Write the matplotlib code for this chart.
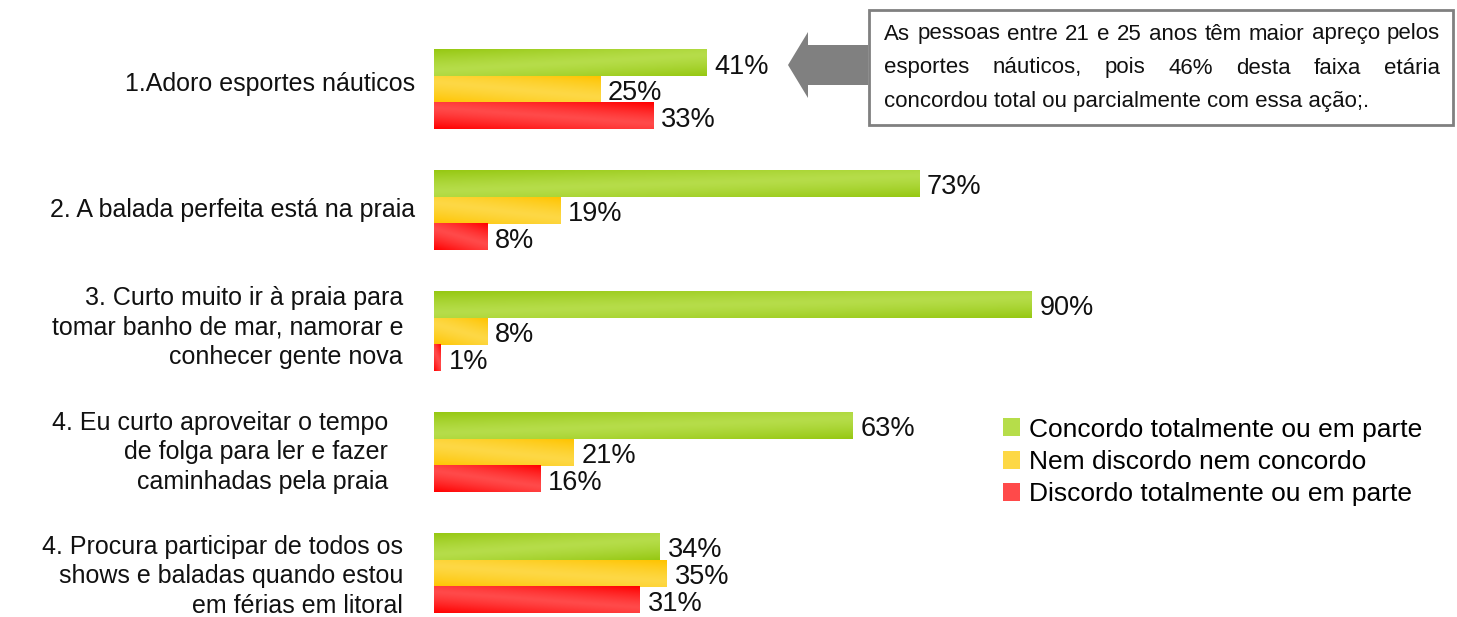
"""Bar chart: opinião sobre praia / esportes náuticos (three agreement levels)."""
import numpy as np
import matplotlib

matplotlib.use("Agg")
import matplotlib.pyplot as plt
from matplotlib.colors import to_rgb
from matplotlib.patches import FancyArrow, Patch, Rectangle
from matplotlib.transforms import offset_copy

plt.rcParams["font.family"] = ["Liberation Sans", "DejaVu Sans"]

categories = [
    "1.Adoro esportes náuticos",
    "2. A balada perfeita está na praia",
    "3. Curto muito ir à praia para\ntomar banho de mar, namorar e\nconhecer gente nova",
    "4. Eu curto aproveitar o tempo\nde folga para ler e fazer\ncaminhadas pela praia",
    "4. Procura participar de todos os\nshows e baladas quando estou\nem férias em litoral",
]
concordo = [41, 73, 90, 63, 34]
nem = [25, 19, 8, 21, 35]
discordo = [33, 8, 1, 16, 31]
series_names = [
    "Concordo totalmente ou em parte",
    "Nem discordo nem concordo",
    "Discordo totalmente ou em parte",
]
note_lines = [
    "As pessoas entre 21 e 25 anos têm maior apreço pelos",
    "esportes náuticos, pois 46% desta faixa etária",
    "concordou total ou parcialmente com essa ação;.",
]

# (light, dark, slant of the gradient)
styles = [
    ("#b6dd4a", "#96c812", 0.6),
    ("#fdd845", "#ffc400", -0.6),
    ("#ff4a4a", "#ff0000", -0.6),
]
# gap (px) between each category label and the bars, (dx, dy)
label_offsets = [(19, 5), (19, 0), (31, 4), (46, 0), (31, -3)]

W, H = 1457, 617
fig = plt.figure(figsize=(W / 100, H / 100), dpi=100)
ax = fig.add_axes([434 / W, 0, 664.4 / W, (H - 29) / H])

y = np.arange(len(categories))
bh = 0.22


def gradient_fill(bar, light, dark, k):
    x0, y0 = bar.get_x(), bar.get_y()
    x1, y1 = x0 + bar.get_width(), y0 + bar.get_height()
    u = np.linspace(0, 1, 200)[None, :]
    v = np.linspace(0, 1, 40)[:, None]
    t = np.abs((v - 0.5) + k * (u - 0.5)) / (0.5 + abs(k) * 0.5)
    t = np.clip(t, 0, 1) ** 1.3
    lo, hi = np.array(to_rgb(light)), np.array(to_rgb(dark))
    img = lo[None, None, :] + (hi - lo)[None, None, :] * t[:, :, None]
    ax.imshow(img, extent=(x0, x1, y1, y0), aspect="auto", zorder=3,
              interpolation="bilinear")


for i, (vals, (light, dark, k)) in enumerate(zip([concordo, nem, discordo], styles)):
    bars = ax.barh(y + (i - 1) * bh, vals, height=bh, color=light, zorder=2)
    for b, v in zip(bars, vals):
        gradient_fill(b, light, dark, k)
        ax.text(v + 1.2, b.get_y() + b.get_height() / 2 + 0.03, f"{v}%",
                va="center", ha="left", fontsize=19.5, color="#111111")

ax.set_xlim(0, 100)
ax.set_ylim(4.36, -0.5)
ax.set_yticks([])
ax.set_xticks([])
for s in ax.spines.values():
    s.set_visible(False)

for yi, lab, (dx, dy) in zip(y, categories, label_offsets):
    tr = offset_copy(ax.get_yaxis_transform(), fig=fig, x=-dx, y=dy,
                     units="dots")
    ax.text(0, yi, lab, transform=tr, ha="right", va="center", fontsize=18,
            linespacing=1.3, multialignment="right", color="#111111",
            clip_on=False)

handles = [Patch(facecolor=c[0], edgecolor="none") for c in styles]
fig.legend(handles, series_names, loc="upper left",
           bbox_to_anchor=(992 / W, 1 - 407 / H), frameon=False, fontsize=19,
           handlelength=0.65, handleheight=0.65, handletextpad=0.35,
           labelspacing=0.32, borderaxespad=0)

# annotation box + arrow, in pixel coordinates
ov = fig.add_axes([0, 0, 1, 1], facecolor="none")
ov.set_xlim(0, W)
ov.set_ylim(H, 0)
ov.axis("off")
ov.add_patch(Rectangle((869, 10), 584, 115, facecolor="white",
                       edgecolor="#808080", lw=2))
ov.add_patch(FancyArrow(868, 65, -80, 0, width=40, head_width=66,
                        head_length=20, length_includes_head=True,
                        color="#808080", lw=0))

# justified note text (last line left aligned)
renderer = fig.canvas.get_renderer()
left, right = 884, 1440
for j, line in enumerate(note_lines):
    ypos = 34 + j * 34
    if j == len(note_lines) - 1:
        ov.text(left, ypos, line, fontsize=16, va="center", ha="left",
                color="#111111")
        continue
    words = line.split()
    arts = [ov.text(left, ypos, w, fontsize=16, va="center", ha="left",
                    color="#111111") for w in words]
    widths = [a.get_window_extent(renderer).width for a in arts]
    gap = (right - left - sum(widths)) / (len(words) - 1)
    xpos = left
    for a, wd in zip(arts, widths):
        a.set_x(xpos)
        xpos += wd + gap

fig.savefig("out.png", dpi=100)
